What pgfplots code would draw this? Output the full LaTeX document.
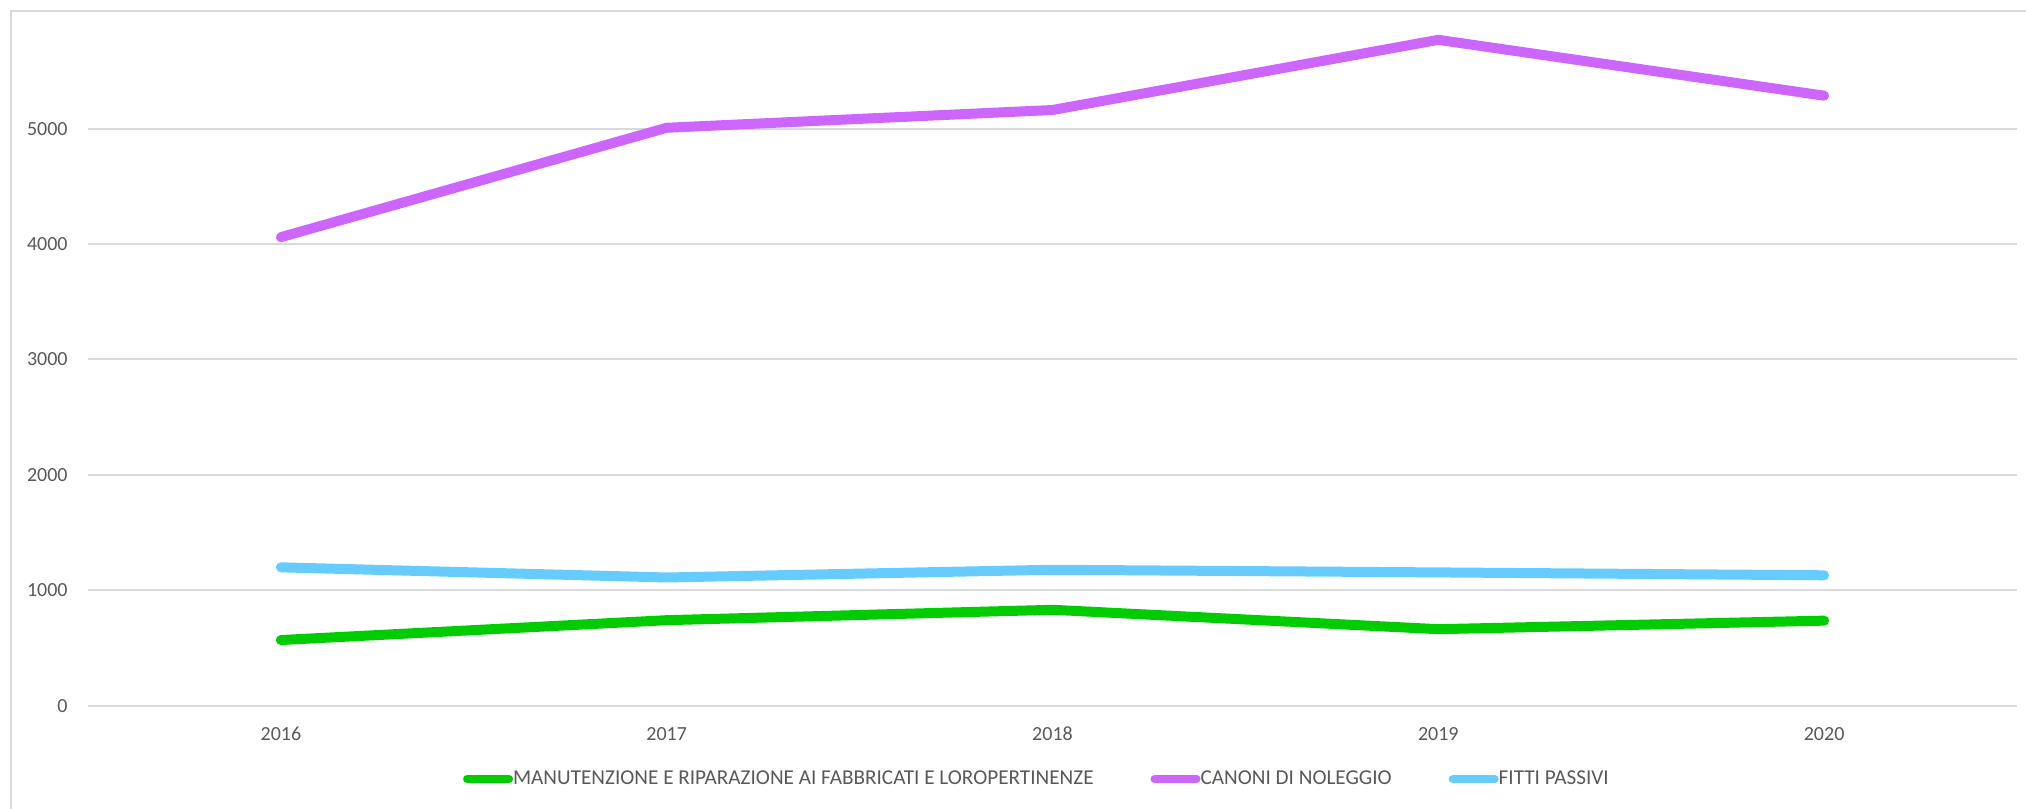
\documentclass[border=0pt]{standalone}
\usepackage{pgfplots}
\pgfplotsset{compat=1.18}
\usepackage{fontspec}
\setmainfont{Carlito}
\definecolor{gman}{HTML}{00CC00}
\definecolor{pcan}{HTML}{CC66FF}
\definecolor{bfit}{HTML}{66CCFF}
\definecolor{gridgray}{HTML}{D9D9D9}
\definecolor{txtgray}{HTML}{595959}
\begin{document}
\begin{tikzpicture}
\path[use as bounding box] (0,0) rectangle (1013pt,404.5pt);
\draw[gridgray, line width=1pt] (5.5pt,0) -- (5.5pt,399pt) -- (1013pt,399pt);
\begin{axis}[
    at={(44pt,51.65pt)}, anchor=south west,
    scale only axis,
    width=964.5pt, height=346.2pt,
    xmin=2015.5, xmax=2020.5,
    ymin=0, ymax=6000,
    xtick={2016,2017,2018,2019,2020},
    ytick={0,1000,2000,3000,4000,5000},
    scaled ticks=false,
    /pgf/number format/1000 sep={},
    /pgf/number format/assume math mode=true,
    ymajorgrids,
    grid style={draw=gridgray, line width=1pt},
    axis line style={draw=none},
    major tick style={draw=none},
    tick label style={font=\fontsize{10}{12}\selectfont, text=txtgray, inner sep=0pt},
    yticklabel style={anchor=east, xshift=-10pt},
    xticklabel style={anchor=north, yshift=-10.5pt},
    legend columns=3,
    legend style={draw=none, fill=none, at={(0.4914,-0.1059)}, anchor=center,
        font=\fontsize{10.6}{12}\selectfont, text=txtgray,
        /tikz/every even column/.append style={column sep=28.5pt},
        nodes={inner xsep=0pt, inner ysep=1pt}},
    legend image code/.code={\draw[#1, line width=4pt, line cap=round] (2pt,0pt) -- (23pt,0pt);},
    every axis plot/.append style={line width=5pt, line cap=round, line join=round},
]
\addplot[gman] coordinates {(2016,569) (2017,741) (2018,831) (2019,663) (2020,737)};
\addlegendentry{MANUTENZIONE E RIPARAZIONE AI FABBRICATI E LOROPERTINENZE}
\addplot[pcan] coordinates {(2016,4060) (2017,5008) (2018,5162) (2019,5770) (2020,5286)};
\addlegendentry{CANONI DI NOLEGGIO}
\addplot[bfit] coordinates {(2016,1199) (2017,1111) (2018,1178) (2019,1155) (2020,1130)};
\addlegendentry{FITTI PASSIVI}
\end{axis}
\end{tikzpicture}
\end{document}
